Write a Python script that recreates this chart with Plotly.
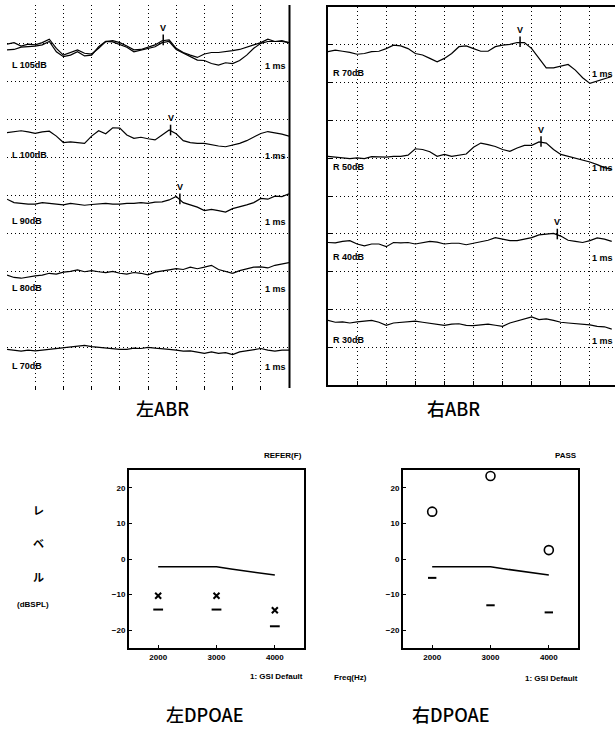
import numpy as np
import plotly.graph_objects as go

# ---------------- data ----------------
LAT_L = [0.0, 0.25, 0.5, 0.75, 1.0, 1.25, 1.5, 1.75, 2.0, 2.25, 2.5, 2.75, 3.0, 3.25, 3.5, 3.75,
         4.0, 4.25, 4.5, 4.75, 5.0, 5.25, 5.5, 5.75, 6.0, 6.25, 6.5, 6.75, 7.0, 7.25, 7.5, 7.75,
         8.0, 8.25, 8.5, 8.75, 9.0, 9.25, 9.5, 9.75, 10.0]
LAT_R = LAT_L[:40]

L105a = [8.97, 9.01, 8.92, 8.97, 8.95, 9.01, 9.10, 8.86, 8.68, 8.75, 8.82, 8.73, 8.71, 8.86, 9.04, 9.06,
         9.01, 8.92, 8.82, 8.83, 8.90, 8.95, 9.06, 9.08, 8.86, 8.75, 8.68, 8.62, 8.71, 8.75, 8.75, 8.77,
         8.80, 8.83, 8.90, 8.95, 9.01, 9.10, 9.04, 9.06, 9.01]
L105b = [8.82, 8.83, 8.89, 8.90, 8.92, 8.95, 9.04, 8.77, 8.64, 8.68, 8.77, 8.66, 8.68, 8.90, 9.04, 9.03,
         8.97, 8.89, 8.77, 8.82, 8.86, 8.90, 9.01, 9.04, 8.83, 8.73, 8.64, 8.55, 8.54, 8.46, 8.42, 8.48,
         8.46, 8.54, 8.68, 8.86, 8.99, 9.04, 9.04, 9.04, 9.01]
L100 = [6.64, 6.67, 6.69, 6.66, 6.62, 6.66, 6.68, 6.55, 6.38, 6.40, 6.38, 6.36, 6.55, 6.69, 6.61, 6.77,
        6.76, 6.58, 6.49, 6.52, 6.48, 6.45, 6.58, 6.71, 6.61, 6.43, 6.38, 6.36, 6.36, 6.32, 6.29, 6.27,
        6.31, 6.36, 6.43, 6.52, 6.62, 6.67, 6.64, 6.60, 6.55]
L90 = [4.89, 4.80, 4.78, 4.76, 4.76, 4.80, 4.78, 4.76, 4.74, 4.78, 4.76, 4.73, 4.75, 4.76, 4.78, 4.76,
       4.76, 4.78, 4.78, 4.80, 4.78, 4.81, 4.82, 4.87, 4.96, 4.80, 4.74, 4.68, 4.59, 4.62, 4.59, 4.55,
       4.64, 4.68, 4.74, 4.80, 4.91, 4.89, 4.97, 4.96, 5.03]
L80 = [2.89, 2.83, 2.81, 2.85, 2.87, 2.89, 2.94, 2.92, 2.97, 2.99, 3.03, 2.98, 3.01, 2.98, 2.96, 2.99,
       2.94, 2.92, 2.96, 2.94, 2.90, 2.97, 3.01, 3.03, 3.06, 3.04, 3.10, 3.06, 3.10, 3.15, 3.04, 2.98,
       2.94, 3.01, 3.06, 3.10, 3.11, 3.08, 3.15, 3.18, 3.22]
L70 = [0.94, 0.92, 0.89, 0.92, 0.90, 0.92, 0.94, 0.96, 0.97, 0.99, 1.01, 1.04, 1.01, 0.99, 0.97, 0.96,
       0.94, 0.94, 0.97, 0.96, 0.99, 0.97, 0.96, 0.94, 0.92, 0.89, 0.90, 0.87, 0.83, 0.87, 0.83, 0.85,
       0.80, 0.87, 0.90, 0.94, 0.96, 0.92, 0.89, 0.92, 0.92]

R70 = [8.82, 8.86, 8.83, 8.80, 8.75, 8.77, 8.82, 8.83, 8.90, 8.99, 8.97, 8.90, 8.77, 8.73, 8.64, 8.55,
       8.64, 8.77, 8.95, 8.97, 8.90, 8.83, 8.83, 8.95, 8.99, 9.01, 9.06, 9.06, 8.90, 8.64, 8.39, 8.39,
       8.44, 8.48, 8.33, 8.13, 7.98, 8.04, 8.11, 8.16]
R50 = [6.05, 6.03, 6.01, 5.99, 6.01, 5.99, 6.04, 6.04, 6.03, 6.05, 6.05, 6.08, 6.25, 6.23, 6.17, 6.05,
       6.10, 6.05, 6.08, 6.11, 6.29, 6.40, 6.36, 6.31, 6.23, 6.18, 6.27, 6.34, 6.34, 6.43, 6.40, 6.23,
       6.10, 6.05, 6.01, 5.96, 5.90, 5.83, 5.75, 5.70]
R40 = [3.77, 3.76, 3.80, 3.82, 3.73, 3.68, 3.73, 3.73, 3.66, 3.77, 3.76, 3.77, 3.73, 3.76, 3.80, 3.78,
       3.73, 3.75, 3.75, 3.71, 3.75, 3.80, 3.83, 3.90, 3.86, 3.82, 3.82, 3.86, 3.90, 3.97, 3.99, 4.01,
       3.94, 3.83, 3.80, 3.77, 3.82, 3.89, 3.86, 3.80]
R30 = [1.71, 1.66, 1.67, 1.64, 1.67, 1.69, 1.71, 1.66, 1.58, 1.64, 1.66, 1.68, 1.69, 1.66, 1.64, 1.61,
       1.58, 1.61, 1.62, 1.58, 1.57, 1.59, 1.61, 1.58, 1.55, 1.64, 1.69, 1.75, 1.80, 1.73, 1.75, 1.71,
       1.66, 1.64, 1.62, 1.61, 1.59, 1.55, 1.54, 1.48]

LEFT_LABELS = ["L 105dB", "L 100dB", "L 90dB", "L 80dB", "L 70dB"]
RIGHT_LABELS = ["R 70dB", "R 50dB", "R 40dB", "R 30dB"]
WAVE_V_LEFT = [5.54, 5.80, 6.13]     # ms, for L105, L100, L90
WAVE_V_RIGHT = [6.60, 7.32, 7.88]    # ms, for R70, R50, R40

DP_FREQ = [2000, 3000, 4000]
DP_LEFT = [-10.3, -10.3, -14.4]
NF_LEFT = [-14.2, -14.2, -18.9]
DP_RIGHT = [13.3, 23.3, 2.5]
NF_RIGHT = [-5.3, -13.0, -15.0]
REF_FREQ = [2000, 2500, 3000, 3250, 3500, 3750, 4000]
REF_LEVEL = [-2.2, -2.2, -2.2, -2.8, -3.4, -3.9, -4.5]
DP_XTICKS = [2000, 3000, 4000]
DP_YTICKS = [-20, -10, 0, 10, 20]

# ---------------- layout helpers ----------------
W, H = 615, 734
def PX(x): return x / W
def PY(y): return 1 - y / H

BLACK = "black"
LBL_FONT = dict(family="Liberation Sans, Arial", size=9, color=BLACK, weight="bold")
TITLE_FONT = dict(family="Noto Sans CJK JP", size=18, color=BLACK, weight=500)
GRID = dict(showgrid=True, gridcolor=BLACK, gridwidth=1, griddash="1px,3px", zeroline=False,
            showticklabels=False)

fig = go.Figure()
line_style = dict(color=BLACK, width=1.2)

for ys in [L105a, L105b, L100, L90, L80, L70]:
    fig.add_trace(go.Scatter(x=LAT_L, y=ys, mode="lines", line=line_style, xaxis="x", yaxis="y",
                             hoverinfo="skip"))
for ys in [R70, R50, R40, R30]:
    fig.add_trace(go.Scatter(x=LAT_R, y=ys, mode="lines", line=line_style, xaxis="x2", yaxis="y2",
                             hoverinfo="skip"))

annotations = []

def add_v(lats, traces, lat_axis, xa, ya):
    xs, ys = [], []
    for t, tr in zip(lats, traces):
        lvl = float(np.interp(t, lat_axis, tr))
        xs += [t, t, None]
        ys += [lvl - 0.12, lvl + 0.16, None]
        annotations.append(dict(x=t, y=lvl + 0.33, xref=xa, yref=ya, text="V", showarrow=False,
                                font=dict(family="Liberation Sans, Arial", size=9, color=BLACK,
                                          weight="bold")))
    fig.add_trace(go.Scatter(x=xs, y=ys, mode="lines", line=dict(color=BLACK, width=1.5),
                             xaxis=xa, yaxis=ya, hoverinfo="skip"))

add_v(WAVE_V_LEFT, [L105a, L100, L90], LAT_L, "x", "y")
add_v(WAVE_V_RIGHT, [R70, R50, R40], LAT_R, "x2", "y2")

# DPOAE
fig.add_trace(go.Scatter(x=REF_FREQ, y=REF_LEVEL, mode="lines", line=dict(color=BLACK, width=1.5),
                         xaxis="x3", yaxis="y3"))
fig.add_trace(go.Scatter(x=DP_FREQ, y=DP_LEFT, mode="markers", xaxis="x3", yaxis="y3",
                         marker=dict(symbol="x-thin", size=6, color=BLACK,
                                     line=dict(width=2, color=BLACK))))
fig.add_trace(go.Scatter(x=DP_FREQ, y=NF_LEFT, mode="markers", xaxis="x3", yaxis="y3",
                         marker=dict(symbol="line-ew", size=7, color=BLACK,
                                     line=dict(width=2, color=BLACK))))
fig.add_trace(go.Scatter(x=REF_FREQ, y=REF_LEVEL, mode="lines", line=dict(color=BLACK, width=1.5),
                         xaxis="x4", yaxis="y4"))
fig.add_trace(go.Scatter(x=DP_FREQ, y=DP_RIGHT, mode="markers", xaxis="x4", yaxis="y4",
                         marker=dict(symbol="circle-open", size=9, color=BLACK,
                                     line=dict(width=1.6, color=BLACK))))
fig.add_trace(go.Scatter(x=DP_FREQ, y=NF_RIGHT, mode="markers", xaxis="x4", yaxis="y4",
                         marker=dict(symbol="line-ew", size=6, color=BLACK,
                                     line=dict(width=2, color=BLACK))))

# ABR labels
left_rows = [65, 155, 221, 288, 366]
for txt, yy in zip(LEFT_LABELS, left_rows):
    annotations.append(dict(x=PX(10), y=PY(yy), xref="paper", yref="paper", text=txt, showarrow=False,
                            xanchor="left", yanchor="middle", font=LBL_FONT))
    annotations.append(dict(x=PX(288), y=PY(yy + 1), xref="paper", yref="paper", text="1 ms",
                            showarrow=False, xanchor="right", yanchor="middle", font=LBL_FONT))
right_rows = [73, 167, 257, 340]
for txt, yy in zip(RIGHT_LABELS, right_rows):
    annotations.append(dict(x=PX(331), y=PY(yy), xref="paper", yref="paper", text=txt, showarrow=False,
                            xanchor="left", yanchor="middle", font=LBL_FONT))
    annotations.append(dict(x=PX(590), y=PY(yy + 1), xref="paper", yref="paper", text="1 ms",
                            showarrow=False, xanchor="left", yanchor="middle", font=LBL_FONT))

# titles
for txt, x, y in [("左ABR", 163, 408), ("右ABR", 453, 408), ("左DPOAE", 205, 714), ("右DPOAE", 451, 714)]:
    annotations.append(dict(x=PX(x), y=PY(y), xref="paper", yref="paper", text=txt, showarrow=False,
                            xanchor="center", yanchor="middle", font=TITLE_FONT))

SMALL = dict(family="Liberation Sans, Arial", size=8, color=BLACK, weight="bold")
for txt, x, y, anc in [("REFER(F)", 304, 456, "right"), ("PASS", 579, 456, "right"),
                       ("1: GSI Default", 305, 676, "right"), ("1: GSI Default", 580, 678, "right"),
                       ("Freq(Hz)", 351, 677, "center"), ("(dBSPL)", 33, 604, "center")]:
    annotations.append(dict(x=PX(x), y=PY(y), xref="paper", yref="paper", text=txt, showarrow=False,
                            xanchor=anc, yanchor="middle", font=SMALL))
for txt, y in [("レ", 510), ("ベ", 543), ("ル", 577)]:
    annotations.append(dict(x=PX(38), y=PY(y), xref="paper", yref="paper", text=txt, showarrow=False,
                            xanchor="center", yanchor="middle",
                            font=dict(family="Noto Sans CJK JP", size=11, color=BLACK, weight="bold")))

shapes = [dict(type="line", xref="paper", yref="paper", x0=PX(289.5), x1=PX(289.5), y0=PY(388), y1=PY(5),
               line=dict(color=BLACK, width=2))]

DPAX = dict(showline=True, mirror=True, linewidth=2, linecolor=BLACK, ticks="inside", ticklen=3,
            tickcolor=BLACK, showgrid=False, zeroline=False, tickfont=SMALL)

fig.update_layout(
    width=W, height=H, margin=dict(l=0, r=0, t=0, b=0), showlegend=False,
    paper_bgcolor="white", plot_bgcolor="white", font=dict(color=BLACK),
    xaxis=dict(domain=[PX(7), PX(289)], range=[0, 10], tickvals=[1, 2, 3, 4, 5, 6, 7, 8, 9],
               ticks="outside", ticklen=4, tickcolor=BLACK, anchor="y", **GRID),
    yaxis=dict(domain=[PY(385), PY(5)], range=[0, 10], tickvals=[1, 2, 3, 4, 5, 6, 7, 8, 9],
               anchor="x", **GRID),
    xaxis2=dict(domain=[PX(328), 1], range=[0, (615 - 328) / 29.1], tickvals=[1, 2, 3, 4, 5, 6, 7, 8, 9],
                ticks="inside", ticklen=4, tickcolor=BLACK, showline=True, mirror=True, linecolor=BLACK,
                linewidth=1.5, anchor="y2", **GRID),
    yaxis2=dict(domain=[PY(385), PY(7)], range=[0, 10], tickvals=[1, 2, 3, 4, 5, 6, 7, 8, 9],
                ticks="inside", ticklen=4, tickcolor=BLACK, showline=True, linecolor=BLACK, linewidth=1.5,
                anchor="x2", **GRID),
    xaxis3=dict(domain=[PX(129), PX(304)], range=[1500, 4500], tickvals=DP_XTICKS, anchor="y3", **DPAX),
    yaxis3=dict(domain=[PY(648), PY(470)], range=[-25, 25], tickvals=DP_YTICKS, anchor="x3", **DPAX),
    xaxis4=dict(domain=[PX(403), PX(578)], range=[1500, 4500], tickvals=DP_XTICKS, anchor="y4", **DPAX),
    yaxis4=dict(domain=[PY(648), PY(470)], range=[-25, 25], tickvals=DP_YTICKS, anchor="x4", **DPAX),
    annotations=annotations, shapes=shapes,
)

fig.write_html("out.html", config={"displayModeBar": False},
               post_script="document.body.style.margin='0';document.body.style.overflow='hidden';")
